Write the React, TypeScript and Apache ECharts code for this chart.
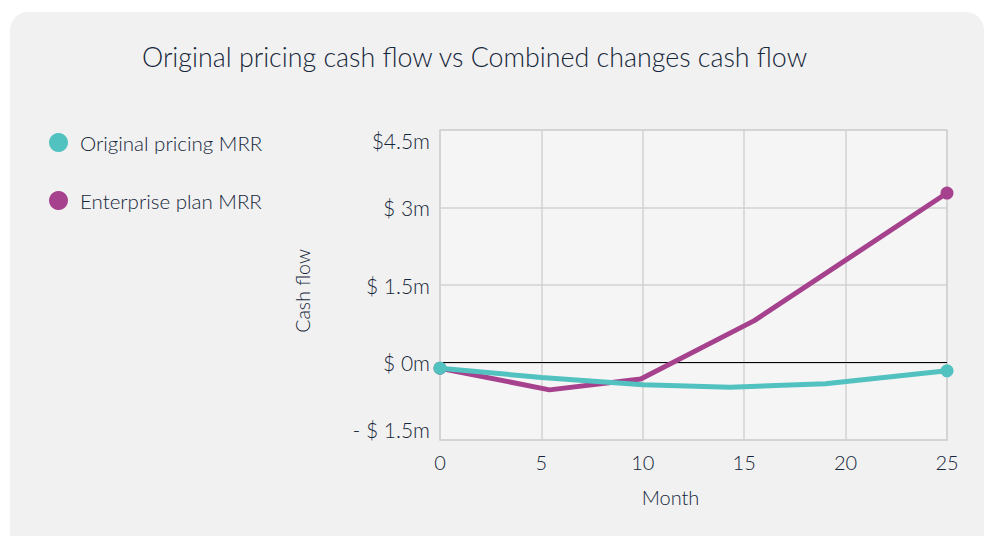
import React, { useEffect, useRef } from "react";
import * as echarts from "echarts";

const TITLE = "Original pricing cash flow vs Combined changes cash flow";
const SERIES_NAMES = ["Original pricing MRR", "Enterprise plan MRR"];
// [month, cash flow in $m]
const originalPricing: [number, number][] = [
  [0, -0.11],
  [5, -0.29],
  [10, -0.43],
  [14.3, -0.48],
  [19, -0.41],
  [25, -0.16],
];
const enterprisePlan: [number, number][] = [
  [0, -0.11],
  [5.4, -0.53],
  [9.9, -0.32],
  [15.5, 0.81],
  [25, 3.28],
];
const yTickValues = [-1.5, 0, 1.5, 3, 4.5];
const yTickLabels = ["- $ 1.5m", "$ 0m", "$ 1.5m", "$ 3m", "$4.5m"];
const xTicks = [0, 5, 10, 15, 20, 25];

const TEAL = "#52c2c1";
const PURPLE = "#a6418e";
const TEXT = "#15263a";
const FONT = "Lato, 'Open Sans', sans-serif";

function withEndSymbols(d: [number, number][]) {
  return d.map((p, i) => ({
    value: p,
    symbolSize: i === 0 || i === d.length - 1 ? 13 : 0,
  }));
}

export default function App() {
  const ref = useRef<HTMLDivElement>(null);
  useEffect(() => {
    if (!ref.current) return;
    const chart = echarts.init(ref.current, null, { renderer: "svg" });
    chart.setOption({
      animation: false,
      backgroundColor: "#ffffff",
      textStyle: { fontFamily: FONT },
      graphic: [
        {
          type: "rect",
          z: -10,
          silent: true,
          shape: { x: 10, y: 12, width: 974, height: 540, r: 18 },
          style: { fill: "#f1f1f1" },
        },
      ],
      title: {
        text: TITLE,
        left: 137,
        top: 38,
        textStyle: {
          fontFamily: FONT,
          fontSize: 26.8,
          fontWeight: 300,
          color: TEXT,
        },
      },
      legend: {
        orient: "vertical",
        left: 44,
        top: 127,
        itemWidth: 19,
        itemHeight: 19,
        itemGap: 37,
        icon: "circle",
        data: SERIES_NAMES,
        textStyle: {
          fontFamily: FONT,
          fontSize: 20.5,
          fontWeight: 300,
          color: TEXT,
          padding: [0, 0, 0, 7],
        },
      },
      grid: {
        left: 440,
        right: 41,
        top: 130,
        bottom: 96,
        show: true,
        backgroundColor: "#f5f5f5",
        borderColor: "#d2d2d2",
        borderWidth: 1.5,
      },
      xAxis: {
        type: "value",
        min: 0,
        max: 25,
        interval: 5,
        name: "Month",
        nameLocation: "middle",
        nameGap: 47,
        nameTextStyle: {
          fontFamily: FONT,
          fontSize: 20,
          fontWeight: 300,
          color: TEXT,
          padding: [0, 46, 0, 0],
        },
        axisLine: { show: false },
        axisTick: { show: false },
        axisLabel: {
          margin: 12,
          fontFamily: FONT,
          fontSize: 20,
          fontWeight: 300,
          color: TEXT,
          formatter: (v: number) => (xTicks.includes(v) ? String(v) : ""),
        },
        splitLine: { show: true, lineStyle: { color: "#d2d2d2", width: 1.5 } },
      },
      yAxis: {
        type: "value",
        min: -1.5,
        max: 4.5,
        interval: 1.5,
        name: "Cash flow",
        nameLocation: "middle",
        nameGap: 128,
        nameTextStyle: {
          fontFamily: FONT,
          fontSize: 19.5,
          fontWeight: 300,
          color: TEXT,
          padding: [0, 12, 0, 0],
        },
        axisLine: { show: false },
        axisTick: { show: false },
        axisLabel: {
          margin: 10,
          fontFamily: FONT,
          fontSize: 21,
          fontWeight: 300,
          color: TEXT,
          verticalAlignMinLabel: "bottom",
          verticalAlignMaxLabel: "top",
          formatter: (v: number) => {
            const i = yTickValues.findIndex((t) => Math.abs(t - v) < 1e-6);
            return i >= 0 ? yTickLabels[i] : "";
          },
        },
        splitLine: { show: true, lineStyle: { color: "#d2d2d2", width: 1.5 } },
      },
      series: [
        {
          name: SERIES_NAMES[1],
          type: "line",
          z: 2,
          data: withEndSymbols(enterprisePlan),
          symbol: "circle",
          showSymbol: true,
          showAllSymbol: true,
          color: PURPLE,
          lineStyle: { color: PURPLE, width: 5 },
          itemStyle: { color: PURPLE },
          markLine: {
            silent: true,
            symbol: "none",
            label: { show: false },
            lineStyle: { color: "#000000", width: 1.2, type: "solid" },
            data: [{ yAxis: 0 }],
            z: 1,
          },
        },
        {
          name: SERIES_NAMES[0],
          type: "line",
          z: 3,
          data: withEndSymbols(originalPricing),
          symbol: "circle",
          showSymbol: true,
          showAllSymbol: true,
          color: TEAL,
          lineStyle: { color: TEAL, width: 5 },
          itemStyle: { color: TEAL },
        },
      ],
    });
    return () => chart.dispose();
  }, []);
  return (
    <div
      ref={ref}
      style={{ position: "fixed", left: 0, top: 0, width: 988, height: 536 }}
    />
  );
}
